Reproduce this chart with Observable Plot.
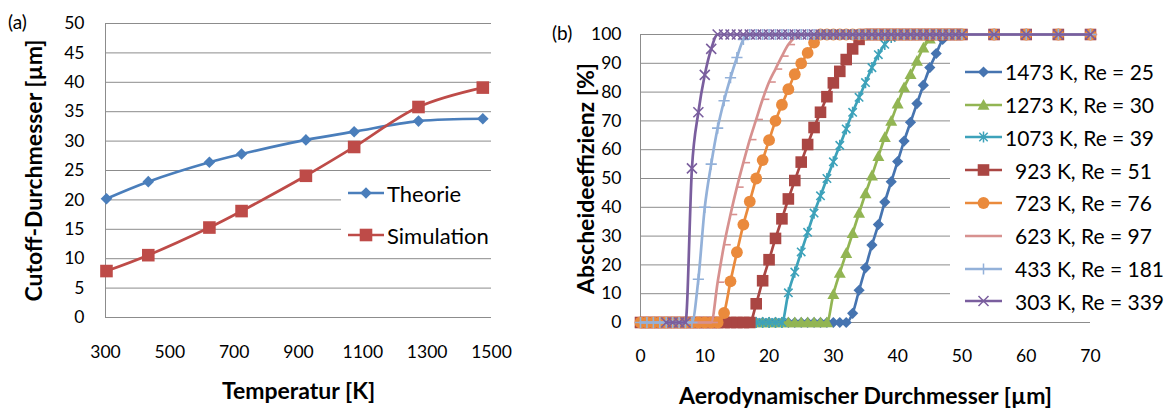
<!DOCTYPE html>
<html>
<head>
<meta charset="utf-8">
<script src="https://cdn.jsdelivr.net/npm/d3@7"></script>
<script src="https://cdn.jsdelivr.net/npm/@observablehq/plot@0.6"></script>
<style>
  html, body { margin: 0; padding: 0; background: #fff; }
  #wrap { position: relative; width: 1171px; height: 409px; overflow: hidden; background: #fff; font-family: Lato, "Open Sans", sans-serif; color: #000; }
  .panel { position: absolute; top: 0; }
  #pa { left: 0; }
  #pb { left: 560px; }
  .panel svg text { fill: #000; }
  .panel g[aria-label="x-axis label"] text, .panel g[aria-label="y-axis label"] text { font-weight: 700; font-size: 23px; }
  .tag { position: absolute; font-size: 19px; line-height: 22px; }
  .lgbox { position: absolute; background: #fff; }
  .li { position: absolute; height: 26px; transform: translateY(-50%); display: flex; align-items: center; white-space: pre; }
  .li svg { display: block; }
</style>
</head>
<body>
<div id="wrap">
  <div class="panel" id="pa"></div>
  <div class="panel" id="pb"></div>
</div>
<script>
// ---------------- Panel (a) data ----------------
const tempsA = [303, 433, 623, 723, 923, 1073, 1273, 1473];
const theorie = [20.2, 23.1, 26.4, 27.8, 30.2, 31.6, 33.4, 33.8];
const simulation = [7.9, 10.6, 15.3, 18.1, 24.1, 29.0, 35.8, 39.1];
const seriesA = ["Theorie", "Simulation"];
const xTicksA = [300, 500, 700, 900, 1100, 1300, 1500];
const yTicksA = [0, 5, 10, 15, 20, 25, 30, 35, 40, 45, 50];

// ---------------- Panel (b) data ----------------
const diamB = [0,1,2,3,4,5,6,7,8,9, 10,11,12,13,14,15,16,17,18,19, 20,21,22,23,24,25,26,27,28,29,
  30,31,32,33,34,35,36,37,38,39, 40,41,42,43,44,45,46,47,48,49, 50,55,60,65,70];
const eff1473 = [0,0,0,0,0,0,0,0,0,0, 0,0,0,0,0,0,0,0,0,0, 0,0,0,0,0,0,0,0,0,0,
  0,0,0,3.2,11.2,19,26.9,34,41.8,48.9, 55.9,63,69.5,76,82.4,88.5,93.4,98.3,100,100, 100,100,100,100,100];
const eff1273 = [0,0,0,0,0,0,0,0,0,0, 0,0,0,0,0,0,0,0,0,0, 0,0,0,0,0,0,0,0,0,0,
  9.8,17.2,24.1,31,38,44.8,51,57.7,64.3,70, 76,81.6,86.2,90.8,95.4,98.5,100,100,100,100, 100,100,100,100,100];
const eff1073 = [0,0,0,0,0,0,0,0,0,0, 0,0,0,0,0,0,0,0,0,0, 0,0,0,10.3,17.5,24.5,31.3,38,44,50,
  55.8,61.5,67.2,73,78.2,83.3,88.5,93,96.6,99, 100,100,100,100,100,100,100,100,100,100, 100,100,100,100,100];
const eff923 = [0,0,0,0,0,0,0,0,0,0, 0,0,0,0,0,0,0,0,6.5,14.5, 21.8,29.2,36,42.9,49.3,55.7,61.8,67.7,73,78.4,
  83.2,87.2,91.3,95,98.3,100,100,100,100,100, 100,100,100,100,100,100,100,100,100,100, 100,100,100,100,100];
const eff723 = [0,0,0,0,0,0,0,0,0,0, 0,0,0,3.3,14.3,24.4,34,42,50,56.4, 63.3,70,75.6,81,86.2,90,93.6,97.2,100,100,
  100,100,100,100,100,100,100,100,100,100, 100,100,100,100,100,100,100,100,100,100, 100,100,100,100,100];
const eff623 = [0,0,0,0,0,0,0,0,0,0, 0,0,14,27,37.5,47,55.5,63.5,70.5,77.5, 83.5,88,92.5,96.5,99,100,100,100,100,100,
  100,100,100,100,100,100,100,100,100,100, 100,100,100,100,100,100,100,100,100,100, 100,100,100,100,100];
const eff433 = [0,0,0,0,0,0,0,0,0,15, 40,55,67.5,77,85,92,98.3,100,100,100, 100,100,100,100,100,100,100,100,100,100,
  100,100,100,100,100,100,100,100,100,100, 100,100,100,100,100,100,100,100,100,100, 100,100,100,100,100];
const eff303 = [null,null,null,null,0,0,0,0,53.5,73, 86,95,100,100,100,100,100,100,100,100, 100,100,100,100,100,100,100,100,100,100,
  100,100,100,100,100,100,100,100,100,100, 100,100,100,100,100,100,100,100,100,100, 100,100,100,100,100];
const seriesB = ["1473 K, Re = 25", "1273 K, Re = 30", "1073 K, Re = 39", "923 K, Re = 51",
  "723 K, Re = 76", "623 K, Re = 97", "433 K, Re = 181", "303 K, Re = 339"];
const valuesB = [eff1473, eff1273, eff1073, eff923, eff723, eff623, eff433, eff303];
const xTicksB = [0, 10, 20, 30, 40, 50, 60, 70];
const yTicksB = [0, 10, 20, 30, 40, 50, 60, 70, 80, 90, 100];

// ---------------- symbols & styles ----------------
function mk(draw) { return { draw(c, size) { const r = Math.sqrt(size / Math.PI); draw(c, r); } }; }
const SYM = {
  diamond: mk((c, r) => { c.moveTo(0, -r); c.lineTo(r, 0); c.lineTo(0, r); c.lineTo(-r, 0); c.closePath(); }),
  square: mk((c, r) => { c.moveTo(-r, -r); c.lineTo(r, -r); c.lineTo(r, r); c.lineTo(-r, r); c.closePath(); }),
  triangle: mk((c, r) => { c.moveTo(0, -r); c.lineTo(r, r * 0.8); c.lineTo(-r, r * 0.8); c.closePath(); }),
  circle: mk((c, r) => { c.moveTo(r, 0); c.arc(0, 0, r, 0, 2 * Math.PI); c.closePath(); }),
  star: mk((c, r) => { const k = r * 0.75; c.moveTo(-k, -k); c.lineTo(k, k); c.moveTo(-k, k); c.lineTo(k, -k); c.moveTo(0, -r); c.lineTo(0, r); }),
  plus: mk((c, r) => { c.moveTo(-r, 0); c.lineTo(r, 0); c.moveTo(0, -r); c.lineTo(0, r); }),
  times: mk((c, r) => { c.moveTo(-r, -r); c.lineTo(r, r); c.moveTo(-r, r); c.lineTo(r, -r); }),
  dash: mk((c, r) => { c.moveTo(0, 0); c.lineTo(r * 1.6, 0); })
};
const styleA = [
  { color: "#4A7EBB", sym: "diamond", r: 5.8, fill: true },
  { color: "#BE4B48", sym: "square", r: 6.3, fill: true }
];
const styleB = [
  { color: "#4674B0", sym: "diamond", r: 5.6, fill: true, indent: 0 },
  { color: "#92B553", sym: "triangle", r: 6, fill: true, indent: 0 },
  { color: "#3DA2BA", sym: "star", r: 5.6, fill: false, indent: 0 },
  { color: "#AA4643", sym: "square", r: 5.8, fill: true, indent: 10 },
  { color: "#EA8A3C", sym: "circle", r: 5.9, fill: true, indent: 10 },
  { color: "#D7918F", sym: "dash", r: 4.2, fill: false, indent: 10 },
  { color: "#93B1D9", sym: "plus", r: 5.6, fill: false, indent: 10 },
  { color: "#7A5E9E", sym: "times", r: 5, fill: false, indent: 10 }
];
const GRID = "#8c8c8c";

function swatch(s, w, lw) {
  const path = s.sym ? d3.symbol(SYM[s.sym], Math.PI * s.r * s.r)() : "";
  return `<svg width="${w}" height="18" viewBox="0 0 ${w} 18">
    <line x1="0" x2="${w}" y1="9" y2="9" stroke="${s.color}" stroke-width="${lw}"/>
    <path transform="translate(${w / 2},9)" d="${path}" fill="${s.fill ? s.color : "none"}" stroke="${s.fill ? "none" : s.color}" stroke-width="1.5"/>
  </svg>`;
}

// ---------------- Panel (a) ----------------
const rowsA = [];
tempsA.forEach((t, i) => {
  rowsA.push({ T: t, d: theorie[i], s: seriesA[0] });
});
tempsA.forEach((t, i) => {
  rowsA.push({ T: t, d: simulation[i], s: seriesA[1] });
});
const fmt = d => String(d);
const marksA = [
  Plot.gridY(yTicksA, { stroke: GRID, strokeOpacity: 1 }),
  Plot.ruleX([xTicksA[0]], { stroke: GRID, strokeWidth: 1 }),
  Plot.axisX(xTicksA, { tickSize: 0, tickPadding: 28, tickFormat: fmt, label: "Temperatur [K]", labelAnchor: "center", labelOffset: 81, labelArrow: "none" }),
  Plot.axisY(yTicksA, { tickSize: 0, tickPadding: 21, tickFormat: fmt, label: "Cutoff-Durchmesser [µm]", labelAnchor: "center", labelOffset: 80, labelArrow: "none" })
];
seriesA.forEach((name, k) => {
  const st = styleA[k];
  const rows = rowsA.filter(r => r.s === name);
  marksA.push(Plot.line(rows, { x: "T", y: "d", stroke: st.color, strokeWidth: 2.7, curve: "catmull-rom" }));
  marksA.push(Plot.dot(rows, { x: "T", y: "d", symbol: SYM[st.sym], r: st.r, fill: st.color, stroke: "none" }));
});
const plotA = Plot.plot({
  width: 520, height: 409,
  marginLeft: 105, marginRight: 29, marginTop: 23, marginBottom: 92,
  style: { fontFamily: "Lato, 'Open Sans', sans-serif", fontSize: "17.5px", background: "transparent", overflow: "visible", color: "#000" },
  x: { domain: [xTicksA[0], xTicksA[xTicksA.length - 1]] },
  y: { domain: [yTicksA[0], yTicksA[yTicksA.length - 1]] },
  marks: marksA
});
document.getElementById("pa").appendChild(plotA);

// ---------------- Panel (b) ----------------
const marksB = [
  Plot.gridY(yTicksB, { stroke: GRID, strokeOpacity: 1 }),
  Plot.ruleX([xTicksB[0]], { stroke: GRID, strokeWidth: 1 }),
  Plot.axisX(xTicksB, { tickSize: 0, tickPadding: 27, tickFormat: fmt, label: "Aerodynamischer Durchmesser [µm]", labelAnchor: "center", labelOffset: 81, labelArrow: "none" }),
  Plot.axisY(yTicksB, { tickSize: 0, tickPadding: 19, tickFormat: fmt, label: "Abscheideeffizienz [%]", labelAnchor: "center", labelOffset: 63, labelArrow: "none" })
];
seriesB.forEach((name, k) => {
  const st = styleB[k];
  const rows = diamB.map((d, i) => ({ d, e: valuesB[k][i] })).filter(r => r.e != null);
  marksB.push(Plot.line(rows, { x: "d", y: "e", stroke: st.color, strokeWidth: 2.7, curve: "monotone-x" }));
  marksB.push(Plot.dot(rows, {
    x: "d", y: "e", symbol: SYM[st.sym], r: st.r,
    fill: st.fill ? st.color : "none", stroke: st.fill ? "none" : st.color, strokeWidth: 1.6
  }));
});
const plotB = Plot.plot({
  width: 611, height: 409,
  marginLeft: 80, marginRight: 81, marginTop: 34, marginBottom: 87,
  style: { fontFamily: "Lato, 'Open Sans', sans-serif", fontSize: "17.5px", background: "transparent", overflow: "visible", color: "#000" },
  x: { domain: [xTicksB[0], xTicksB[xTicksB.length - 1]] },
  y: { domain: [yTicksB[0], yTicksB[yTicksB.length - 1]] },
  marks: marksB
});
document.getElementById("pb").appendChild(plotB);

// ---------------- legends & tags ----------------
const wrap = document.getElementById("wrap");
function addDiv(cls, css, html) {
  const d = document.createElement("div");
  d.className = cls; d.style.cssText = css; d.innerHTML = html; wrap.appendChild(d); return d;
}
addDiv("tag", "left:8px;top:11px;", "(a)");
addDiv("tag", "left:552px;top:22px;", "(b)");

// legend (a)
addDiv("lgbox", "left:341px;top:176px;width:160px;height:78px;", "");
seriesA.forEach((name, k) => {
  addDiv("li", `left:348px;top:${193 + k * 42}px;font-size:22px;`,
    swatch(styleA[k], 36, 2.7) + `<span style="margin-left:3px">${name}</span>`);
});

// legend (b)
addDiv("lgbox", "left:950px;top:52px;width:221px;height:265px;", "");
seriesB.forEach((name, k) => {
  const st = styleB[k];
  addDiv("li", `left:965px;top:${71.7 + k * 32.8}px;font-size:21px;`,
    swatch(st, 37, 2.7) + `<span style="margin-left:${3 + st.indent}px">${name}</span>`);
});
</script>
</body>
</html>
